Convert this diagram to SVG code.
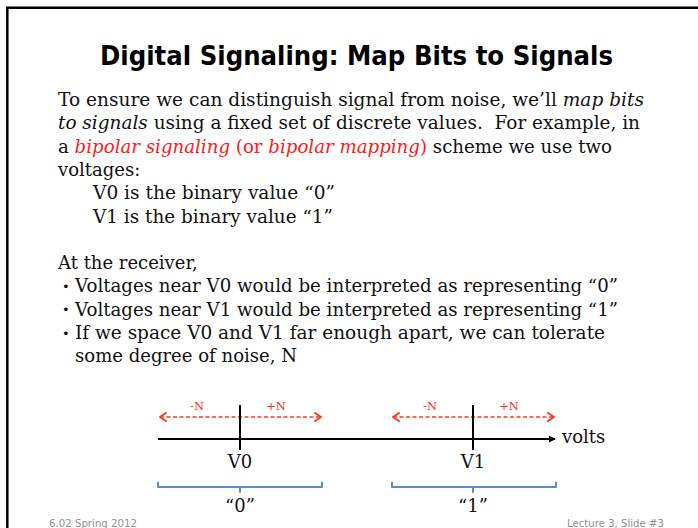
<svg xmlns="http://www.w3.org/2000/svg" width="698" height="528" viewBox="0 0 698 528">
  <style>
    .title { font-family: "DejaVu Sans", "Liberation Sans", sans-serif; font-weight: bold; font-size: 27px; fill: #000; }
    .body { font-family: "DejaVu Serif", "Liberation Serif", serif; font-size: 18px; fill: #111; }
    .em { font-style: italic; }
    .hl { fill: #ff1a1a; }
    .bullet { font-family: "DejaVu Sans", sans-serif; font-size: 13px; fill: #111; }
    .noise-label { font-family: "DejaVu Serif", "Liberation Serif", serif; font-size: 11.5px; fill: #ff2a14; text-anchor: middle; }
    .axis-label { font-family: "DejaVu Serif", "Liberation Serif", serif; font-size: 18px; fill: #111; text-anchor: middle; }
    .footer { font-family: "DejaVu Sans", "Liberation Sans", sans-serif; font-size: 10.5px; fill: #8f8f8f; }
    .axis { stroke: #000; stroke-width: 2; fill: none; }
    .tick { stroke: #000; stroke-width: 2; }
    .noise { stroke: #ff3a1c; stroke-width: 1.5; stroke-dasharray: 4 2.5; fill: none; }
    .brace { stroke: #5b8cc8; stroke-width: 2; fill: none; stroke-linejoin: round; stroke-linecap: round; }
  </style>
  <defs>
    <marker id="chevron" markerUnits="userSpaceOnUse" markerWidth="10" markerHeight="12" refX="7" refY="5" orient="auto-start-reverse" viewBox="0 0 10 12">
      <path d="M1,1 L7,5 L1,9" fill="none" stroke="#ff3a1c" stroke-width="2" stroke-dasharray="none" stroke-linecap="round" stroke-linejoin="round"/>
    </marker>
    <marker id="axis-head" markerUnits="userSpaceOnUse" markerWidth="10" markerHeight="10" refX="6" refY="3.5" orient="auto" viewBox="0 0 10 10">
      <path d="M0,0 L7,3.5 L0,7 Z" fill="#000"/>
    </marker>
  </defs>

  <rect width="698" height="528" fill="#fff"/>
  <!-- slide frame -->
  <path d="M7.3,528 V7.8 H698" fill="none" stroke="#000" stroke-width="2.5"/>

  <g id="title">
    <text class="title" x="100" y="65" textLength="513" lengthAdjust="spacingAndGlyphs">Digital Signaling: Map Bits to Signals</text>
  </g>

  <g id="body">
    <text class="body" x="58" y="106" textLength="586" lengthAdjust="spacingAndGlyphs">To ensure we can distinguish signal from noise, we’ll <tspan class="em">map bits</tspan></text>
    <text class="body" x="58" y="129.3" textLength="582" lengthAdjust="spacingAndGlyphs" xml:space="preserve"><tspan class="em">to signals</tspan> using a fixed set of discrete values.  For example, in</text>
    <text class="body" x="58" y="152.6" textLength="554" lengthAdjust="spacingAndGlyphs">a <tspan class="hl em">bipolar signaling</tspan><tspan class="hl"> (or </tspan><tspan class="hl em">bipolar mapping</tspan><tspan class="hl">)</tspan> scheme we use two</text>
    <text class="body" x="58" y="175.9">voltages:</text>
    <text class="body" x="93" y="199.2" textLength="242" lengthAdjust="spacingAndGlyphs">V0 is the binary value “0”</text>
    <text class="body" x="93" y="222.5" textLength="240" lengthAdjust="spacingAndGlyphs">V1 is the binary value “1”</text>
    <text class="body" x="58" y="269.1">At the receiver,</text>
    <text class="bullet" x="62" y="291">•</text>
    <text class="body" x="75" y="292.4" textLength="543" lengthAdjust="spacingAndGlyphs">Voltages near V0 would be interpreted as representing “0”</text>
    <text class="bullet" x="62" y="314.3">•</text>
    <text class="body" x="75" y="315.7" textLength="543" lengthAdjust="spacingAndGlyphs">Voltages near V1 would be interpreted as representing “1”</text>
    <text class="bullet" x="62" y="337.6">•</text>
    <text class="body" x="75" y="339" textLength="530" lengthAdjust="spacingAndGlyphs">If we space V0 and V1 far enough apart, we can tolerate</text>
    <text class="body" x="75" y="362.3" textLength="222" lengthAdjust="spacingAndGlyphs">some degree of noise, N</text>
  </g>

  <!-- voltage axis, noise ranges and decision brackets -->
  <g id="connectors">
    <line class="axis" x1="158" y1="439" x2="555" y2="439" marker-end="url(#axis-head)"/>
    <line class="noise" x1="160" y1="417" x2="321" y2="417" marker-start="url(#chevron)" marker-end="url(#chevron)"/>
    <line class="noise" x1="393" y1="417" x2="554" y2="417" marker-start="url(#chevron)" marker-end="url(#chevron)"/>
  </g>

  <g id="v0">
    <line class="tick" x1="240" y1="405" x2="240" y2="450"/>
    <text class="noise-label" x="197" y="410">-N</text>
    <text class="noise-label" x="276" y="410">+N</text>
    <text class="axis-label" x="240" y="468">V0</text>
    <path class="brace" d="M158,482.5 V487 H322 V482.5 M240,487 V492"/>
    <text class="axis-label" x="240" y="512">“0”</text>
  </g>

  <g id="v1">
    <line class="tick" x1="473" y1="405" x2="473" y2="450"/>
    <text class="noise-label" x="430" y="410">-N</text>
    <text class="noise-label" x="509" y="410">+N</text>
    <text class="axis-label" x="473" y="468">V1</text>
    <path class="brace" d="M392,482.5 V487 H556 V482.5 M473,487 V492"/>
    <text class="axis-label" x="473" y="512">“1”</text>
  </g>

  <g id="volts-label">
    <text class="body" x="562" y="443">volts</text>
  </g>

  <g id="footer">
    <text class="footer" x="49" y="526.5" textLength="88" lengthAdjust="spacingAndGlyphs">6.02 Spring 2012</text>
    <text class="footer" x="567" y="526.5" textLength="97" lengthAdjust="spacingAndGlyphs">Lecture 3, Slide #3</text>
  </g>
</svg>
